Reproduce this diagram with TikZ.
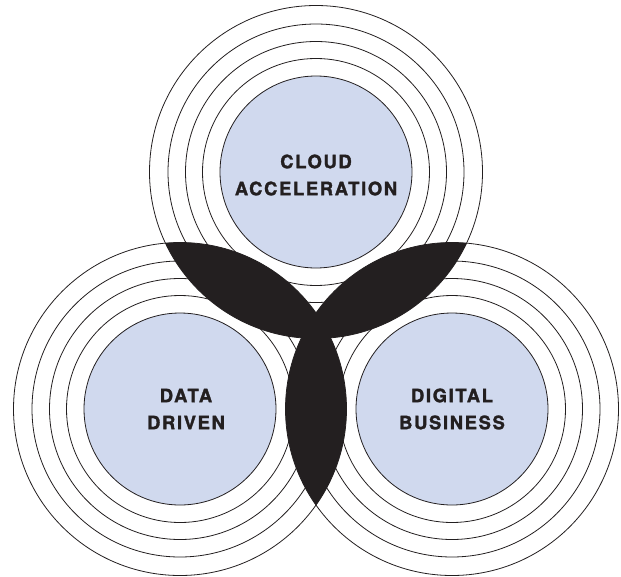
\documentclass[tikz,border=0pt]{standalone}
\usepackage{fontspec}
\newfontfamily\labfont[LetterSpace=9,BoldFeatures={FakeBold=1.6}]{TeX Gyre Heros}
\definecolor{inkblack}{HTML}{231F20}
\definecolor{softblue}{HTML}{D0D9EE}
\begin{document}
\begin{tikzpicture}[x=1pt,y=-1pt,
  ring/.style={draw=inkblack, line width=0.8pt},
  core/.style={circle, minimum size=192pt, inner sep=0pt, fill=softblue, draw=inkblack, line width=0.8pt},
  label/.style={align=center, text=inkblack, font=\labfont\bfseries\fontsize{18.4}{27}\selectfont},
  lens/.style={fill=inkblack}]
\useasboundingbox (0,0) rectangle (621,576);
\coordinate (T) at (316,172);
\coordinate (L) at (180,409);
\coordinate (R) at (452,409);
% rings
\foreach \c in {T,L,R}{
  \foreach \r in {113.5,130.5,148,166.5}{
    \draw[ring] (\c) circle (\r);
  }
}
% lenses
\begin{scope}
  \clip (T) circle (166.5);
  \fill[lens] (L) circle (166.5);
\end{scope}
\begin{scope}
  \clip (T) circle (166.5);
  \fill[lens] (R) circle (166.5);
\end{scope}
\begin{scope}
  \clip (L) circle (166.5);
  \fill[lens] (R) circle (166.5);
\end{scope}
% cores
\node[core] (cloudcore) at (T) {};
\node[core] (datacore) at (L) {};
\node[core] (digitalcore) at (R) {};
\node[label] (cloud) at (316,175) {CLOUD\\ACCELERATION};
\node[label] (data) at (186,409) {DATA\\DRIVEN};
\node[label] (digital) at (452,409) {DIGITAL\\BUSINESS};
\end{tikzpicture}
\end{document}
